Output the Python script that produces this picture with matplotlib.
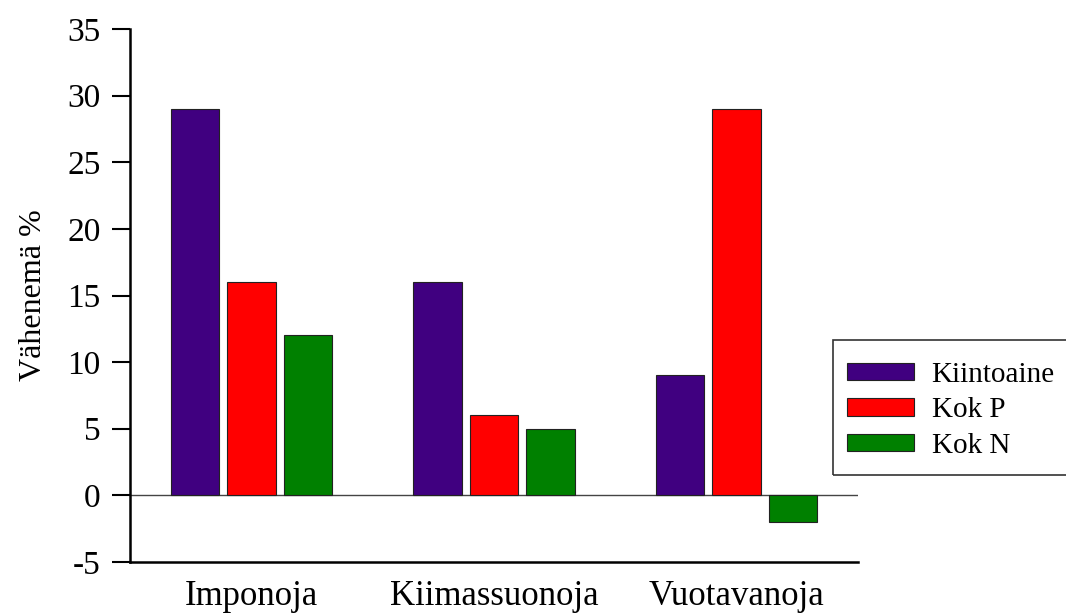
import numpy as np
import matplotlib.pyplot as plt
from matplotlib.patches import Rectangle

# Data
categories = ['Imponoja', 'Kiimassuonoja', 'Vuotavanoja']
series_names = ['Kiintoaine', 'Kok P', 'Kok N']
kiintoaine = [29, 16, 9]
kok_p = [16, 6, 29]
kok_n = [12, 5, -2]
colors = ['#400080', '#ff0000', '#008000']

plt.rcParams['font.family'] = ['Liberation Serif', 'DejaVu Serif']
plt.rcParams['axes.unicode_minus'] = False

fig = plt.figure(figsize=(10.66, 6.15), dpi=100)
ax = fig.add_axes([130 / 1066, 1 - 562 / 615, 728 / 1066, 533 / 615])

x = np.arange(len(categories)) + 0.5
width = 0.2
step = 0.233
for i, (vals, name) in enumerate(zip([kiintoaine, kok_p, kok_n], series_names)):
    ax.bar(x + (i - 1) * step, vals, width, color=colors[i], edgecolor='#222222',
           linewidth=0.8, label=name, zorder=3)

ax.axhline(0, color='#444444', linewidth=1, zorder=2)

ax.set_xlim(0, 3)
ax.set_ylim(-5, 35)
ax.set_yticks(range(-5, 36, 5))
ax.set_xticks(x)
ax.set_xticklabels(categories, fontsize=25)
ax.tick_params(axis='y', labelsize=24, length=13, width=1.5, direction='out', pad=8)
ax.tick_params(axis='x', length=0, pad=13)
ax.set_ylabel('Vähenemä %', fontsize=23, labelpad=14)

for side in ['top', 'right']:
    ax.spines[side].set_visible(False)
for side in ['left', 'bottom']:
    ax.spines[side].set_linewidth(1.8)

# legend with frame running off the right edge
leg = fig.legend(loc='upper left', bbox_to_anchor=(847 / 1066, 1 - 362 / 615),
                 frameon=False, fontsize=21, handlelength=2.3, handleheight=0.55,
                 handletextpad=0.6, labelspacing=0.32, borderaxespad=0, borderpad=0)
fig.patches.append(Rectangle((833 / 1066, 1 - 475 / 615), 250 / 1066, 135 / 615,
                             transform=fig.transFigure, fill=False,
                             edgecolor='#333333', linewidth=1.2))

fig.savefig('out.png', dpi=100)
